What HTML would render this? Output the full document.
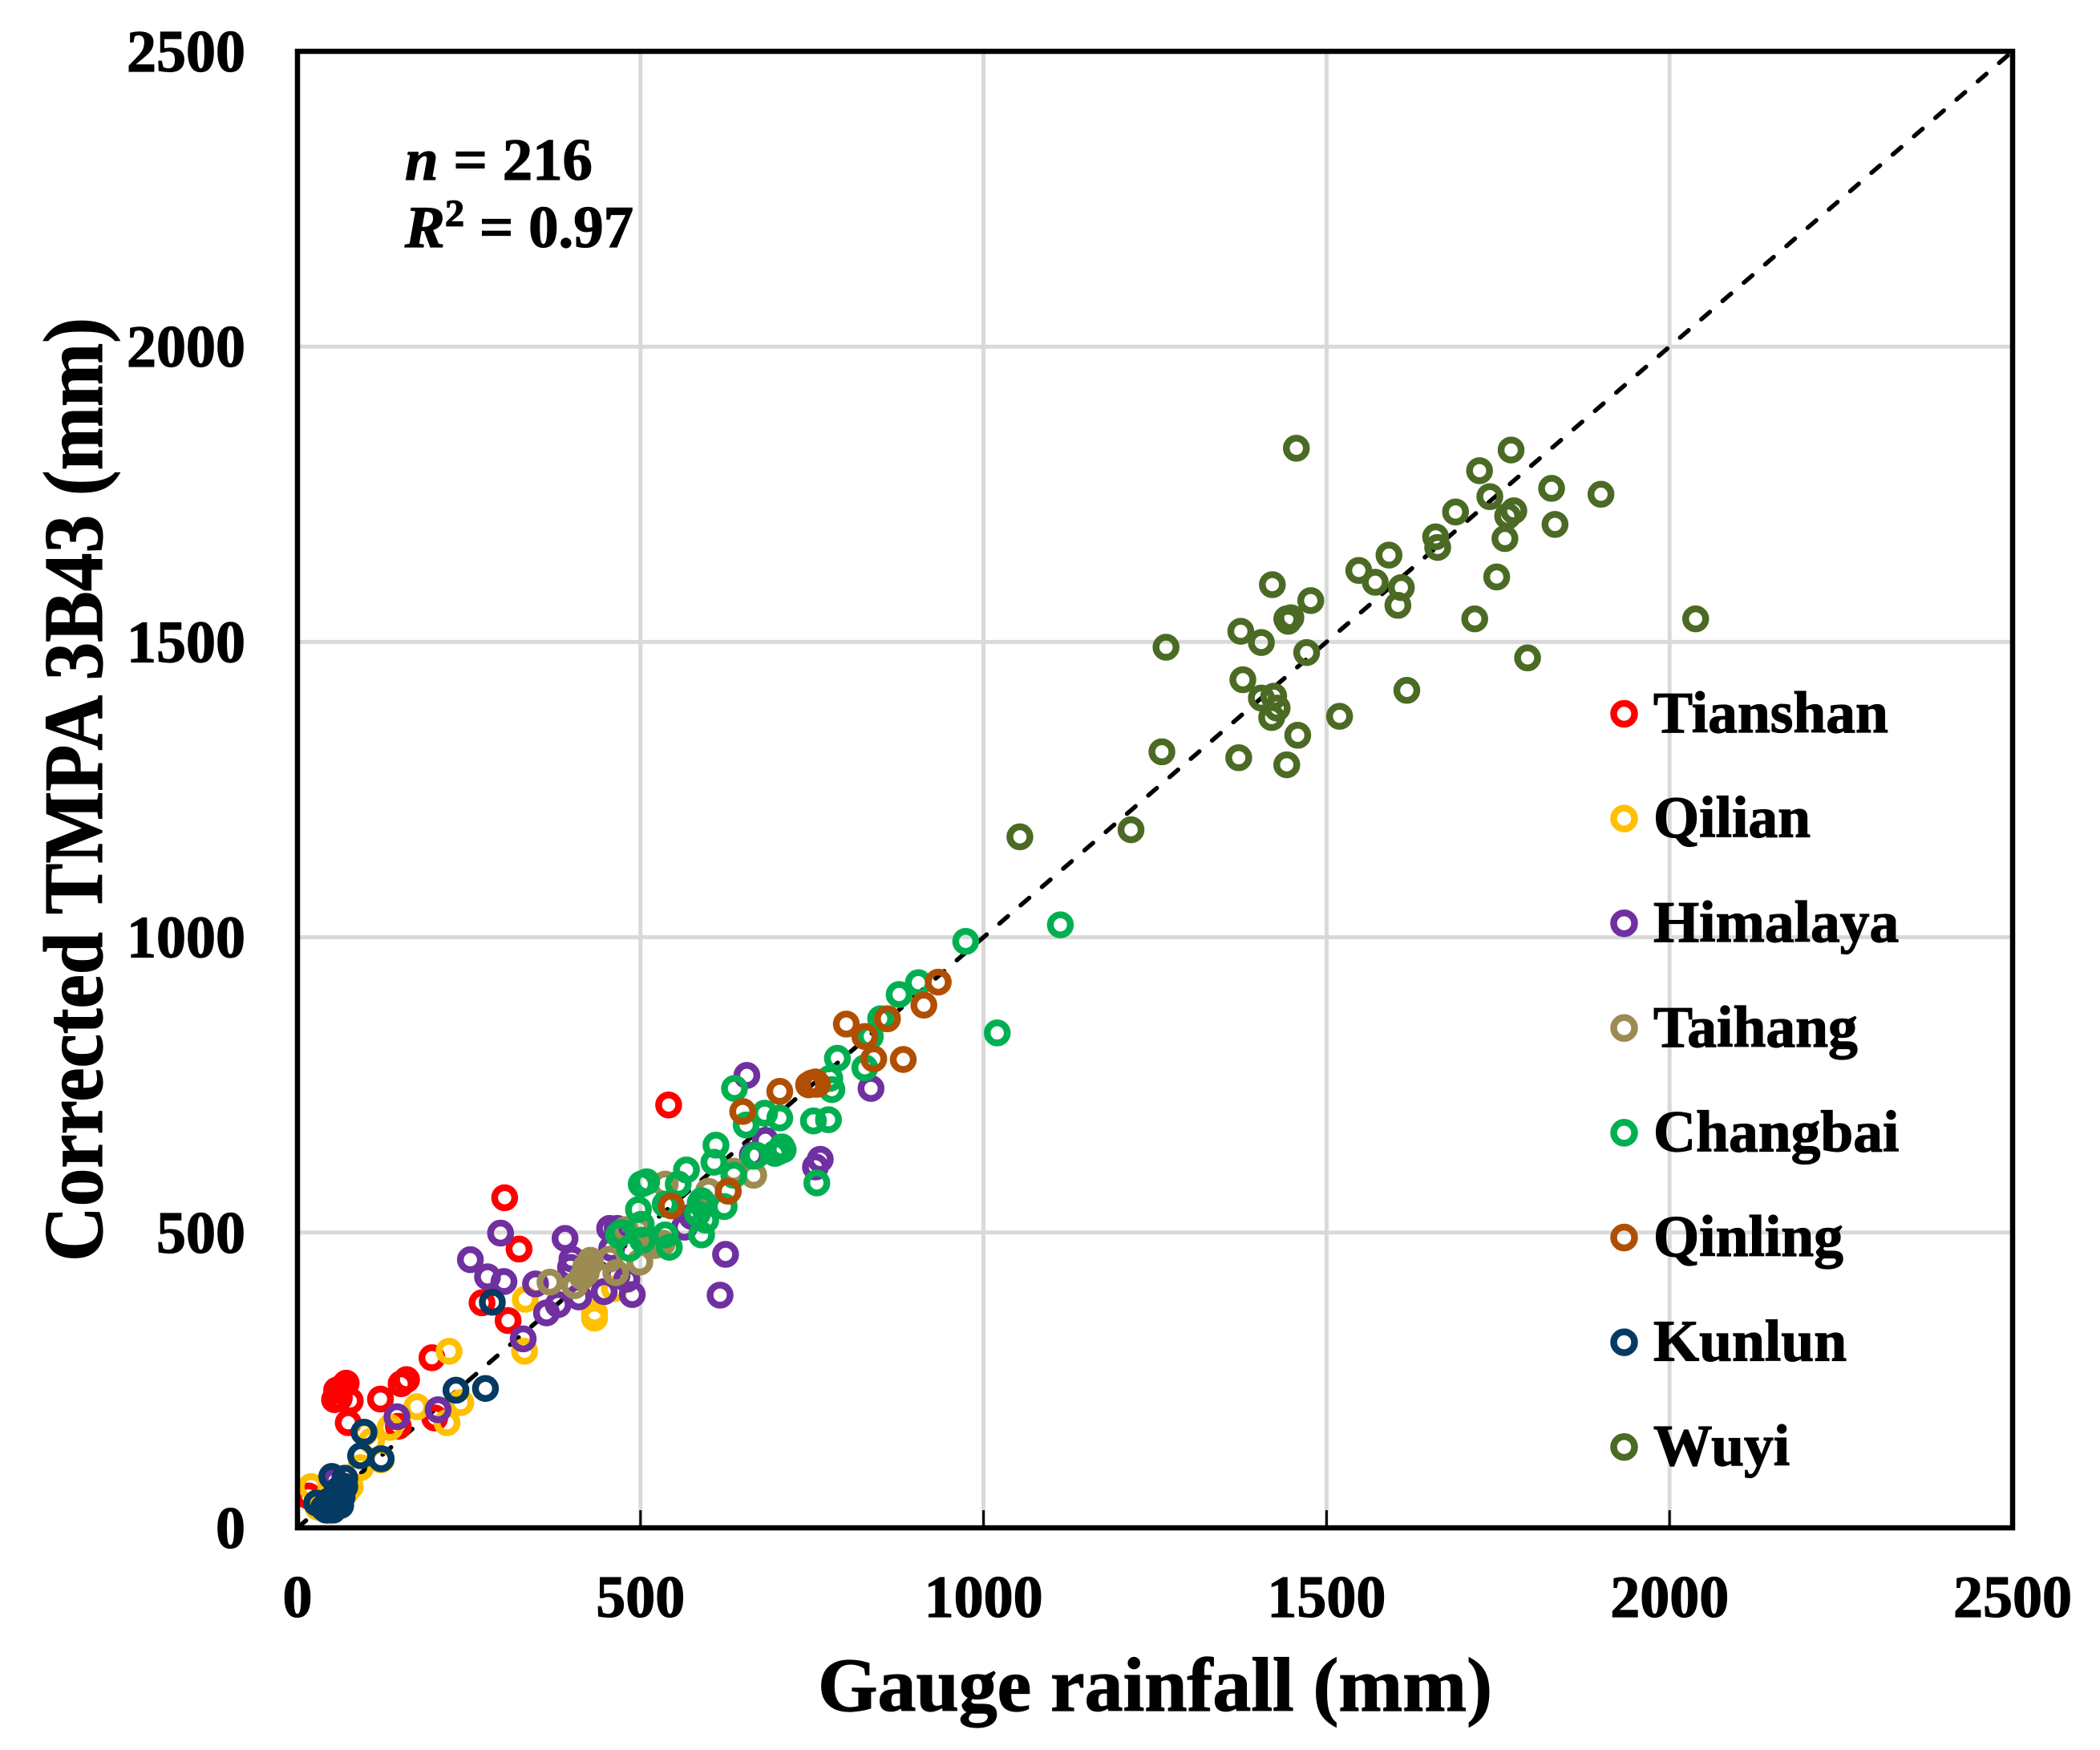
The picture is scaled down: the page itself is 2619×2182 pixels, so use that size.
<!DOCTYPE html>
<html lang="en">
<head>
<meta charset="utf-8">
<title>Corrected TMPA 3B43 vs gauge rainfall</title>
<style>
html,body{margin:0;padding:0;background:#fff;width:2619px;height:2182px;overflow:hidden}
svg{display:block;font-family:"Liberation Serif",serif;font-weight:bold}
text{stroke:#000;stroke-width:1.2px}
</style>
</head>
<body>
<svg id="chart" xmlns="http://www.w3.org/2000/svg" width="2619" height="2182" viewBox="0 0 2619 2182">
<rect x="0" y="0" width="2619" height="2182" fill="#fff"/>
<g id="grid"></g>
<g id="ticks"></g>
<line id="ref" stroke="#000" stroke-width="5.5" stroke-linecap="round" stroke-dasharray="14 21"/>
<g id="points"></g>
<rect id="frame" fill="none" stroke="#000" stroke-width="6.5"/>
<g id="tickLabels" font-size="74" fill="#000"></g>
<text x="1020" y="2133" font-size="95" textLength="841" lengthAdjust="spacingAndGlyphs">Gauge rainfall (mm)</text>
<text transform="translate(127,1573) rotate(-90)" x="0" y="0" font-size="105" textLength="1177" lengthAdjust="spacingAndGlyphs">Corrected TMPA 3B43 (mm)</text>
<text x="505" y="224" font-size="74" textLength="234" lengthAdjust="spacingAndGlyphs"><tspan font-style="italic">n</tspan> = 216</text>
<text x="505" y="308" font-size="74" textLength="285" lengthAdjust="spacingAndGlyphs"><tspan font-style="italic">R</tspan><tspan font-size="48" dy="-26">2</tspan><tspan dy="26"> = 0.97</tspan></text>
<g id="legend"></g>
</svg>
<script>
const xTickValues = [0, 500, 1000, 1500, 2000, 2500];
const yTickValues = [0, 500, 1000, 1500, 2000, 2500];

const regionNames = ["Tianshan", "Qilian", "Himalaya", "Taihang", "Changbai", "Qinling", "Kunlun", "Wuyi"];

const tianshanGauge = [196,159,151,121,71,57,61,77,54,65,74,147,200,16,302,541,323,307,269];
const tianshanTmpa  = [288,251,244,218,245,233,220,215,217,238,178,172,186,54,559,716,472,351,381];

const qilianGauge = [221,331,174,238,218,98,135,108,122,92,77,20,46,332,433,433,447,462,60,70,30];
const qilianTmpa  = [299,299,205,212,178,161,170,147,115,102,70,70,29,387,355,364,400,405,40,60,35];

const himalayaGauge = [655,836,762,755,682,663,624,616,296,390,455,466,301,277,347,400,458,488,480,447,410,380,363,398,466,564,575,205,145,329,252,55,420];
const himalayaTmpa  = [766,744,624,611,656,631,463,394,499,490,507,507,417,425,413,455,473,395,421,400,391,378,364,441,428,509,527,200,188,320,454,80,430];

const taihangGauge = [368,404,420,421,427,464,455,499,521,536,599,636,665,497,505,532,478,425,415];
const taihangTmpa  = [416,410,441,432,453,432,455,450,478,582,570,604,597,505,487,482,505,445,425];

const changbaiGauge = [974,1112,1020,905,877,850,835,787,827,776,779,755,637,681,654,703,752,774,610,607,636,567,555,665,669,706,696,708,700,505,501,509,497,536,589,591,595,583,587,622,589,501,468,472,503,484,536,542,757];
const changbaiTmpa  = [993,1021,838,923,903,862,832,795,779,761,742,751,744,702,682,694,689,691,648,619,597,606,582,629,631,645,634,640,636,584,582,586,539,548,554,545,521,532,550,544,496,514,496,500,487,473,496,475,584];

const qinlingGauge = [934,913,860,800,827,840,883,749,758,745,755,703,649,545,628];
const qinlingTmpa  = [924,885,862,853,832,794,793,753,751,750,755,739,705,545,570];

const kunlunGauge = [274,231,97,92,122,284,50,28,69,69,65,63,48,38,55,45,60,52,58,42];
const kunlunTmpa  = [236,233,162,122,117,382,87,42,84,70,52,38,38,34,55,45,65,30,42,30];

const wuyiGauge = [1456,1769,1723,1828,1900,1738,1688,1773,1764,1833,1760,1659,1662,1591,1547,1571,1609,1604,1748,1421,1477,1442,1444,1448,1375,1405,1266,1471,2038,1716,1793,1378,1617,1423,1405,1428,1420,1519,1458,1260,1372,1442,1215,1053];
const wuyiTmpa  = [1828,1825,1790,1760,1750,1746,1720,1722,1713,1699,1675,1678,1660,1647,1621,1601,1592,1562,1610,1597,1570,1539,1535,1541,1518,1499,1491,1482,1539,1539,1473,1436,1418,1408,1405,1388,1372,1374,1342,1314,1304,1292,1182,1170];

const regionColors = ["#ff0000", "#ffc000", "#7030a0", "#9c8c53", "#00b050", "#b04f04", "#053a63", "#4b6a24"];
const gaugeSeries = [tianshanGauge, qilianGauge, himalayaGauge, taihangGauge, changbaiGauge, qinlingGauge, kunlunGauge, wuyiGauge];
const tmpaSeries = [tianshanTmpa, qilianTmpa, himalayaTmpa, taihangTmpa, changbaiTmpa, qinlingTmpa, kunlunTmpa, wuyiTmpa];

const NS = "http://www.w3.org/2000/svg";
const plot = { left: 371, right: 2510, top: 64, bottom: 1905 };
const axisMax = 2500;
function xScale(v) { return plot.left + (v / axisMax) * (plot.right - plot.left); }
function yScale(v) { return plot.bottom - (v / axisMax) * (plot.bottom - plot.top); }
function make(tag, attrs) {
  const el = document.createElementNS(NS, tag);
  for (const k in attrs) el.setAttribute(k, attrs[k]);
  return el;
}

const gridGroup = document.getElementById("grid");
const tickGroup = document.getElementById("ticks");
const labelGroup = document.getElementById("tickLabels");

xTickValues.forEach(function (v) {
  if (v > 0 && v < axisMax) {
    const g = make("line", { x1: xScale(v), x2: xScale(v), y1: plot.top, y2: plot.bottom, stroke: "#d9d9d9", "stroke-width": 5 });
    
    
    gridGroup.appendChild(g);
    const t = make("line", { x1: xScale(v), x2: xScale(v), y1: plot.bottom - 22, y2: plot.bottom, stroke: "#000", "stroke-width": 3 });
    
    
    tickGroup.appendChild(t);
  }
  const label = make("text", { x: xScale(v), y: 2016, "text-anchor": "middle" });
  label.textContent = String(v);
  
  
  labelGroup.appendChild(label);
});

yTickValues.forEach(function (v) {
  if (v > 0 && v < axisMax) {
    const g = make("line", { x1: plot.left, x2: plot.right, y1: yScale(v), y2: yScale(v), stroke: "#d9d9d9", "stroke-width": 5 });
    
    
    gridGroup.appendChild(g);
  }
  const label = make("text", { x: 306, y: yScale(v) + 25, "text-anchor": "end" });
  label.textContent = String(v);
  
  
  labelGroup.appendChild(label);
});

const refLine = document.getElementById("ref");
refLine.setAttribute("x1", xScale(0));
refLine.setAttribute("y1", yScale(0));
refLine.setAttribute("x2", xScale(axisMax));
refLine.setAttribute("y2", yScale(axisMax));

const frame = document.getElementById("frame");
frame.setAttribute("x", plot.left);
frame.setAttribute("y", plot.top);
frame.setAttribute("width", plot.right - plot.left);
frame.setAttribute("height", plot.bottom - plot.top);

const pointsGroup = document.getElementById("points");
regionNames.forEach(function (name, i) {
  const series = make("g", { fill: "none", stroke: regionColors[i], "stroke-width": 8.5 });
  
  
  gaugeSeries[i].forEach(function (gx, j) {
    const c = make("circle", { cx: xScale(gx), cy: yScale(tmpaSeries[i][j]), r: 12.5 });
    
    
    series.appendChild(c);
  });
  pointsGroup.appendChild(series);
});

const legendGroup = document.getElementById("legend");
regionNames.forEach(function (name, i) {
  const cy = 890 + i * 130.6;
  const entry = make("g", {});
  
  
  const marker = make("circle", { cx: 2025.5, cy: cy, r: 13, fill: "none", stroke: regionColors[i], "stroke-width": 8.5 });
  
  
  const text = make("text", { x: 2062, y: cy + 23, "font-size": 73.5, fill: "#000" });
  text.textContent = name;
  
  
  entry.appendChild(marker);
  entry.appendChild(text);
  legendGroup.appendChild(entry);
});
</script>
</body>
</html>
